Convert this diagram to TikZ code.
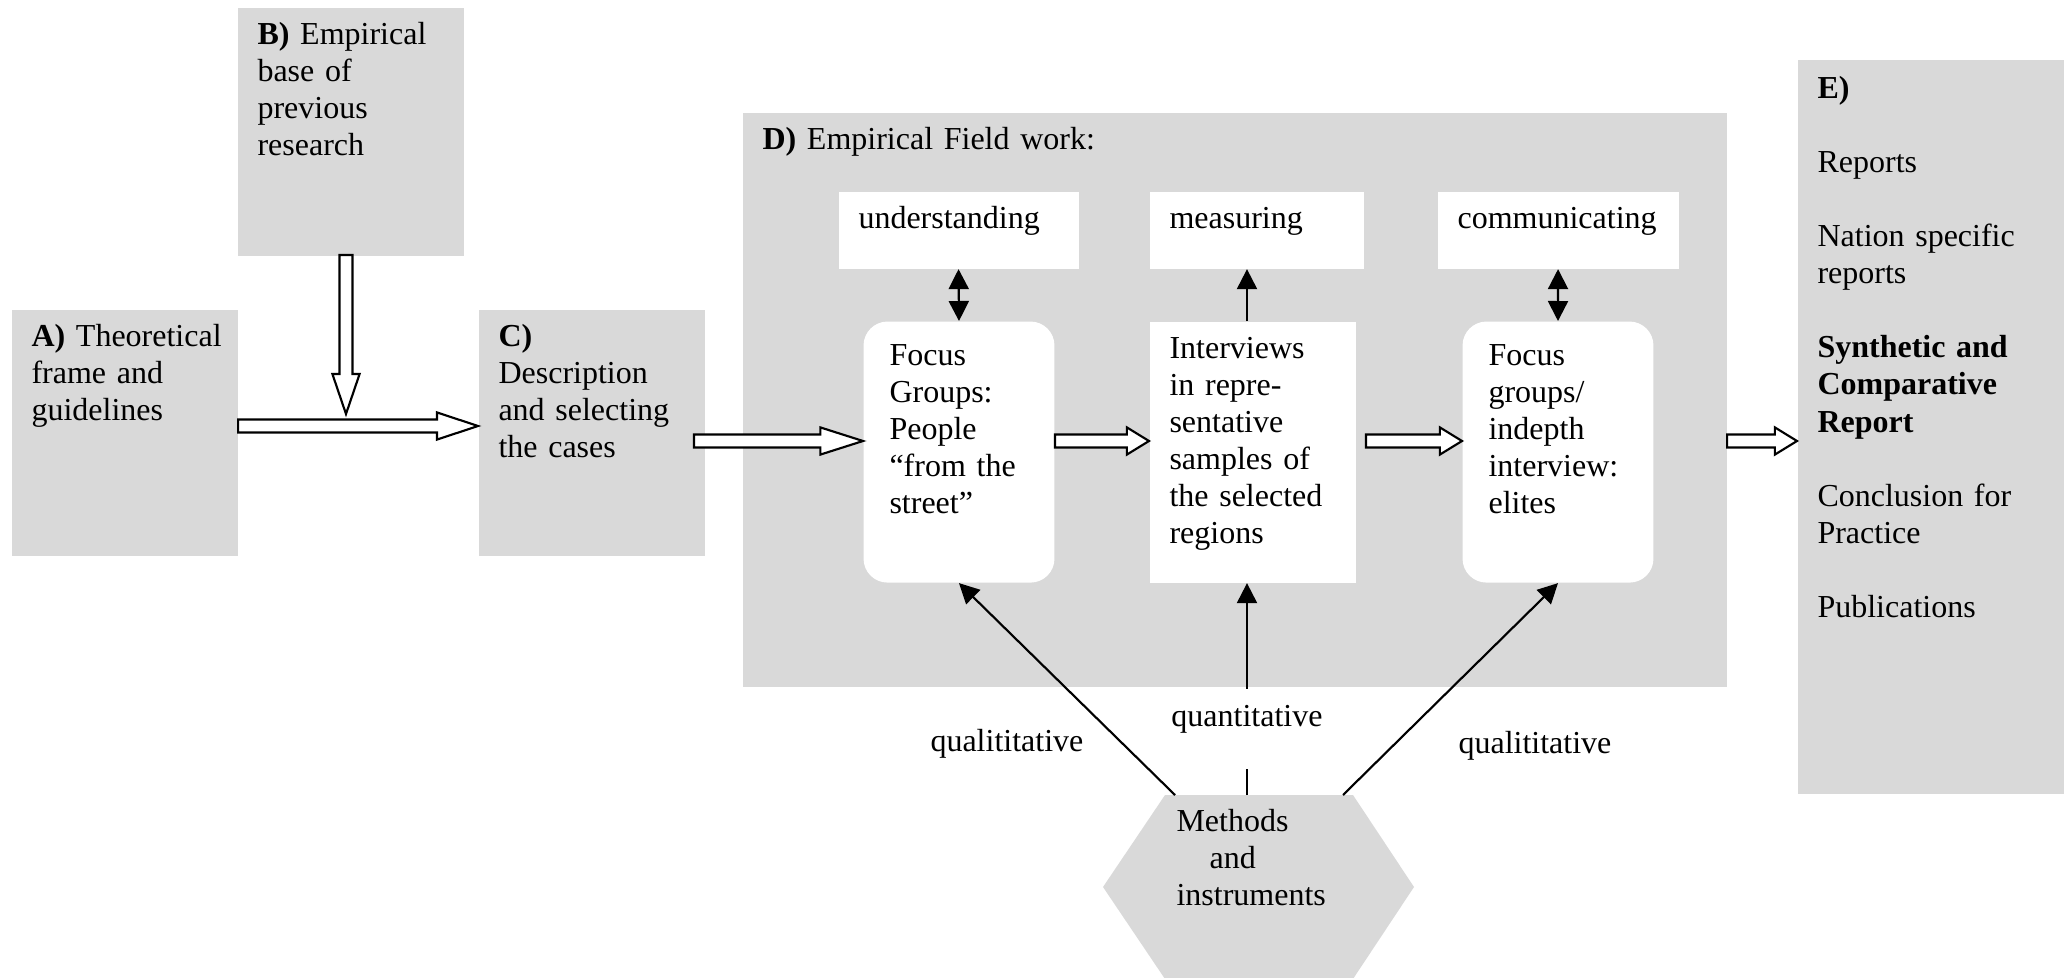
\documentclass[tikz,border=0pt]{standalone}
\usepackage{fontspec}
\setmainfont{Liberation Serif}
\usetikzlibrary{arrows.meta,calc}
\definecolor{panelgray}{RGB}{217,217,217}
\newcommand{\shaftw}{2.45pt}
\newcommand{\headw}{5.1pt}

\begin{document}
\begin{tikzpicture}[
        x=0.375pt, y=-0.375pt,
        every node/.style={font=\fontsize{12}{13.9}\selectfont, align=left,
            inner xsep=7.5pt, inner ysep=5pt, text height=8.9pt},
        panel/.style 2 args={anchor=north west, fill=panelgray, text width=#1, text depth=#2},
        card/.style 2 args={panel={#1}{#2}, fill=white},
        roundcard/.style={card={52.1pt}{73.8pt}, rounded corners=9pt,
            inner xsep=9.75pt, inner ysep=7.6pt},
        link/.style={line width=0.8pt, -{Triangle[length=7.5pt, width=7.5pt]}},
        twoway/.style={line width=0.8pt,
            {Triangle[length=7.5pt, width=7.5pt]}-{Triangle[length=7.5pt, width=7.5pt]}},
        fat/.style={draw=black, fill=white, line width=0.8pt,
            to path={let \p1=(\tikztostart), \p2=(\tikztotarget),
                \p3=($(\p2)!#1!(\p1)$) in
                ($(\p1)!\shaftw!90:(\p2)$) -- ($(\p3)!\shaftw!90:(\p2)$)
                -- ($(\p3)!\headw!90:(\p2)$) -- (\p2)
                -- ($(\p3)!\headw!-90:(\p2)$) -- ($(\p3)!\shaftw!-90:(\p2)$)
                -- ($(\p1)!\shaftw!-90:(\p2)$) -- cycle}},
        fat/.default=8.3pt,
    ]
    \useasboundingbox (0,0) rectangle (2069,978);

    \node[panel={69.75pt}{73.7pt}] (A) at (11,309) {\textbf{A)}~\mbox{Theoretical}\\frame and\\guidelines};
    \node[panel={70.1pt}{74.1pt}] (B) at (237,7) {\textbf{B)}~Empirical\\base of\\previous\\research};
    \node[panel={70.1pt}{73.7pt}] (C) at (478,309) {\textbf{C)}\\Description\\and selecting\\the cases};
    \node[panel={354pt}{196.35pt}] (D) at (742,112) {\textbf{D)} Empirical Field work:};
    \node[panel={85.1pt}{255.3pt}, inner ysep=5.7pt] (E) at (1797,59) {\textbf{E)}\\[\baselineskip]
        Reports\\[\baselineskip]
        Nation specific\\reports\\[\baselineskip]
        \textbf{Synthetic and}\\\textbf{Comparative}\\\textbf{Report}\\[\baselineskip]
        Conclusion for\\Practice\\[\baselineskip]
        Publications};

    \node[card={75pt}{10pt}] (under) at (838,191) {understanding};
    \node[card={65.6pt}{10pt}] (meas) at (1149,191) {measuring};
    \node[card={75.4pt}{10pt}] (comm) at (1437,191) {communicating};
    \node[roundcard] (fg1) at (863,321) {Focus\\Groups:\\People\\“from~the\\street”};
    \node[card={62.25pt}{79pt}] (intv) at (1149,321) {Interviews\\in repre-\\sentative\\samples~of\\the~selected\\regions};
    \node[roundcard] (fg2) at (1462,321) {Focus\\groups/\\indepth\\interview:\\elites};

    \fill[panelgray] (1165,795) -- (1353,795) -- (1414,887) -- (1353,979)
        -- (1165,979) -- (1103,887) -- cycle;
    \node[anchor=north west, inner sep=0pt, text width=60pt] (meth) at (1176,807)
        {Methods\\\hspace*{12.4pt}and\\instruments};

    \coordinate (ab) at (0,426);
    \coordinate (row) at (0,441);
    \coordinate (bout) at (346,255);
    \coordinate (join) at (346,414);
    \coordinate (cout) at (694,441);
    \coordinate (iout) at (1366,441);
    \coordinate (mq1) at (1175,795);
    \coordinate (mq2) at (1247,795);
    \coordinate (mq3) at (1343,795);

    \draw[fat=15.4pt] (A.east |- ab) to (C.west |- ab);
    \draw[fat=15pt] (bout) to (join);
    \draw[fat=16pt] (cout) to (fg1.west |- row);
    \draw[fat] (fg1.east |- row) to (intv.west |- row);
    \draw[fat] (iout) to (fg2.west |- row);
    \draw[fat] (D.east |- row) to (E.west |- row);

    \draw[twoway] (fg1.north) -- (under.south);
    \draw[link] (intv.north -| mq2) -- (meas.south -| mq2);
    \draw[twoway] (fg2.north) -- (comm.south);
    \draw[link] (mq1) -- (fg1.south);
    \draw[link] (mq2) -- (intv.south -| mq2);
    \draw[link] (mq3) -- (fg2.south);

    \node[anchor=base west, inner sep=0pt] (qual1) at (930,751) {qualititative};
    \node[anchor=base west, inner sep=0pt] (qual2) at (1458,753) {qualititative};
    \node[anchor=north, fill=white, inner xsep=3pt, inner ysep=0pt,
        text height=14.25pt, text depth=16.1pt] (quant) at (1247,688) {quantitative};
\end{tikzpicture}
\end{document}
